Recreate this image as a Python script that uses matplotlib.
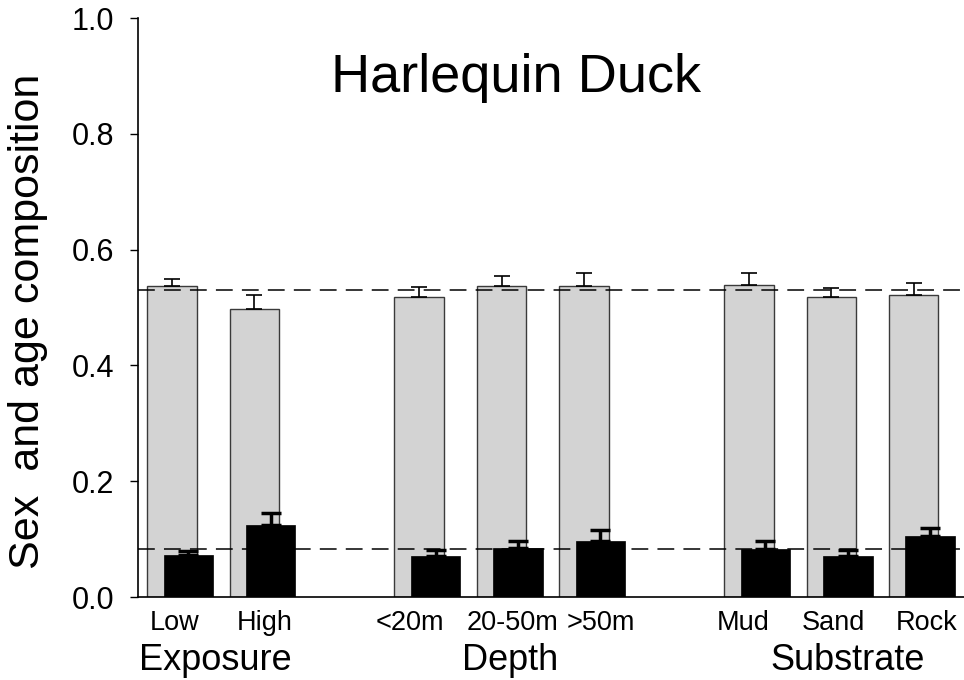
import numpy as np
import matplotlib.pyplot as plt
import matplotlib.transforms as mtransforms

plt.rcParams['font.family'] = ['Liberation Sans', 'DejaVu Sans']

# data
categories = ["Low", "High", "<20m", "20-50m", ">50m", "Mud", "Sand", "Rock"]
positions = [0, 1, 3, 4, 5, 7, 8, 9]
groups = ["Exposure", "Depth", "Substrate"]
group_members = [[0, 1], [2, 3, 4], [5, 6, 7]]

grey_vals = [0.538, 0.497, 0.519, 0.538, 0.537, 0.539, 0.519, 0.522]
grey_err = [0.011, 0.025, 0.017, 0.017, 0.023, 0.021, 0.014, 0.020]
black_vals = [0.072, 0.125, 0.071, 0.085, 0.097, 0.083, 0.071, 0.105]
black_err = [0.007, 0.020, 0.010, 0.011, 0.018, 0.014, 0.010, 0.015]

ref_grey = 0.531
ref_black = 0.083

# label nudges (the original labels are placed by hand)
label_shift = [0.03, 0.13, -0.11, 0.13, 0.2, -0.07, 0.03, 0.16]
group_shift = [-0.07, 0.0, 0.1]

fig = plt.figure(figsize=(9.64, 6.8), dpi=100)
ax = fig.add_axes([0.1432, 0.122, 0.8568, 0.8515])

x = np.array(positions, dtype=float)
w = 0.6
off = 0.2

ax.bar(x, grey_vals, width=w, color='#d3d3d3', edgecolor='#3a3a3a', linewidth=1.0, zorder=2)
ax.errorbar(x, grey_vals, yerr=[np.zeros(len(x)), grey_err], fmt='none',
            ecolor='black', elinewidth=1.2, capsize=6, capthick=1.2, zorder=2)

ax.bar(x + off, black_vals, width=w, color='black', edgecolor='black', linewidth=0.5, zorder=3)
ax.errorbar(x + off, black_vals, yerr=[np.zeros(len(x)), black_err], fmt='none',
            ecolor='black', elinewidth=2.5, capsize=7, capthick=2.5, zorder=3)

ax.axhline(ref_grey, color='black', lw=1.1, dashes=(11, 6), zorder=4)
ax.axhline(ref_black, color='black', lw=1.1, dashes=(11, 6), zorder=4)

ax.set_xlim(-0.41, 9.61)
ax.set_ylim(0, 1.0)
ax.set_yticks([0.0, 0.2, 0.4, 0.6, 0.8, 1.0])
ax.set_yticklabels(["0.0", "0.2", "0.4", "0.6", "0.8", "1.0"])
ax.set_xticks(x + np.array(label_shift))
ax.set_xticklabels(categories)
ax.tick_params(axis='x', length=0, pad=9, labelsize=19.5)
ax.tick_params(axis='y', length=6, width=1, direction='out', pad=11, labelsize=22)

ax.spines['top'].set_visible(False)
ax.spines['right'].set_visible(False)
ax.spines['left'].set_linewidth(1.2)
ax.spines['bottom'].set_linewidth(1.2)

trans = mtransforms.blended_transform_factory(ax.transData, ax.transAxes)
for name, members, sh in zip(groups, group_members, group_shift):
    gx = np.mean([positions[m] + 0.1 for m in members]) + sh
    ax.text(gx, -0.109, name, transform=trans, ha='center', va='center', fontsize=26)

ax.text(0.458, 0.896, "Harlequin Duck", transform=ax.transAxes,
        ha='center', va='center', fontsize=39)

fig.text(28 / 964, 0.527, "Sex  and age composition", rotation=90,
         ha='center', va='center', fontsize=31)

fig.savefig("out.png", dpi=100)
